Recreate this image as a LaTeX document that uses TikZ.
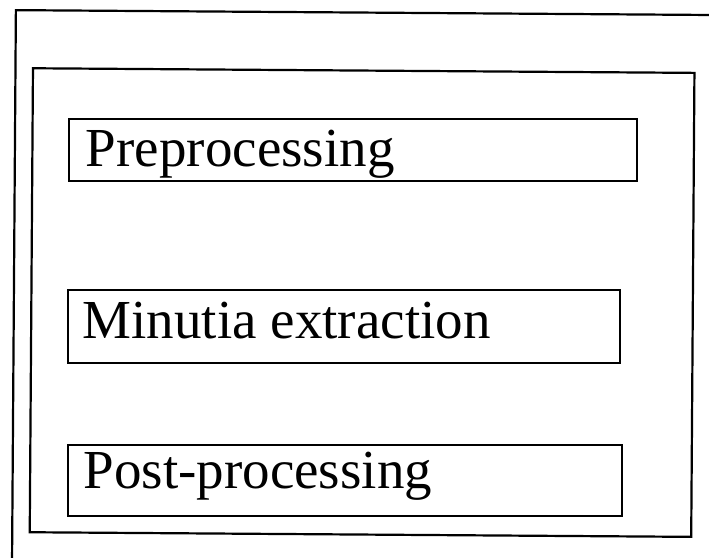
\documentclass[tikz,border=0pt]{standalone}
\usepackage{fontspec}
\setmainfont{Liberation Serif}
\begin{document}
\begin{tikzpicture}[x=1bp,y=-1bp,
  frame/.style={draw=black,line width=2.2bp},
  stagebox/.style={draw=black,line width=2.2bp,rectangle,inner sep=0pt,anchor=north west},
  stagelabel/.style={anchor=base west,inner sep=0pt,font=\fontsize{55bp}{60bp}\selectfont}]
\useasboundingbox (0,0) rectangle (709,558);
\clip (0,0) rectangle (709,558);
\begin{scope}[rotate around={-0.4:(354,279)}]
  % outer frame (runs past the page on the right and bottom)
  \draw[frame] (14,620) -- (14,12.5) -- (760,12.5);
  % inner frame
  \draw[frame] (31.5,70.5) rectangle (693,534.5);
  % processing stages
  \node[stagebox,minimum width=568bp,minimum height=62bp] (box1) at (67,119.5) {};
  \node[stagebox,minimum width=552bp,minimum height=73bp] (box2) at (67,291) {};
  \node[stagebox,minimum width=554bp,minimum height=71bp] (box3) at (68,446) {};
  \node[stagelabel] (label1) at (85,168) {Preprocessing};
  \node[stagelabel] (label2) at (83,340) {Minutia extraction};
  \node[stagelabel] (label3) at (85,490) {Post-processing};
\end{scope}
\end{tikzpicture}
\end{document}
